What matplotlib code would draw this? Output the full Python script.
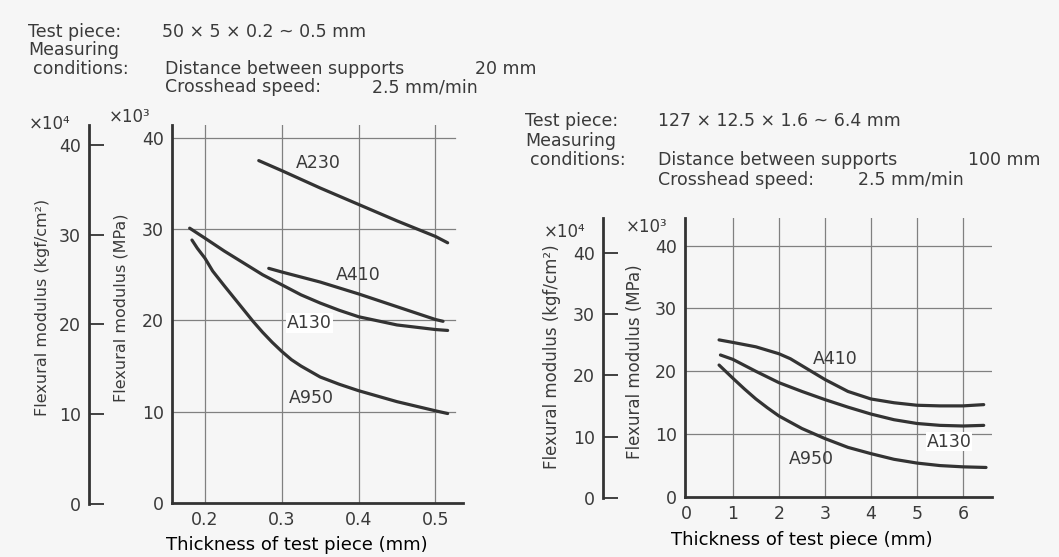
import matplotlib
matplotlib.use("Agg")
import matplotlib.pyplot as plt

W, H = 1059, 557
INK = '#3a3a3a'
LINE = '#333333'
GRID = '#808080'

plt.rcParams['font.family'] = 'DejaVu Sans'
plt.rcParams['text.color'] = INK

# left chart: thin test pieces (thickness in mm, modulus in 10^3 MPa)
left_a230_x = [0.270, 0.30, 0.35, 0.40, 0.45, 0.50, 0.516]
left_a230_y = [37.5, 36.4, 34.5, 32.7, 30.9, 29.2, 28.5]
left_a410_x = [0.283, 0.30, 0.35, 0.40, 0.45, 0.50, 0.510]
left_a410_y = [25.7, 25.3, 24.2, 22.9, 21.5, 20.1, 19.9]
left_a130_x = [0.180, 0.20, 0.225, 0.25, 0.275, 0.30, 0.325, 0.35, 0.375, 0.40, 0.45, 0.50, 0.516]
left_a130_y = [30.1, 29.0, 27.6, 26.3, 25.0, 23.9, 22.8, 21.9, 21.1, 20.4, 19.5, 19.0, 18.9]
left_a950_x = [0.183, 0.19, 0.20, 0.21, 0.225, 0.2375, 0.25, 0.2625, 0.275, 0.2875, 0.30,
               0.3125, 0.325, 0.3375, 0.35, 0.375, 0.40, 0.425, 0.45, 0.475, 0.50, 0.516]
left_a950_y = [28.8, 27.9, 26.8, 25.4, 23.8, 22.5, 21.2, 19.9, 18.7, 17.6, 16.6,
               15.7, 15.0, 14.4, 13.8, 13.0, 12.3, 11.7, 11.1, 10.6, 10.1, 9.8]

# right chart: thick test pieces
right_a410_x = [0.70, 1.0, 1.5, 2.0, 2.25, 2.5, 2.75, 3.0, 3.5, 4.0, 4.5, 5.0, 5.5, 6.0, 6.45]
right_a410_y = [25.0, 24.6, 23.9, 22.8, 22.0, 20.9, 19.8, 18.7, 16.8, 15.6, 15.0, 14.6, 14.5, 14.5, 14.7]
right_a130_x = [0.73, 1.0, 1.5, 2.0, 2.5, 3.0, 3.5, 4.0, 4.5, 5.0, 5.5, 6.0, 6.45]
right_a130_y = [22.6, 21.9, 20.0, 18.2, 16.8, 15.5, 14.3, 13.2, 12.3, 11.7, 11.4, 11.3, 11.4]
right_a950_x = [0.70, 1.0, 1.25, 1.5, 1.75, 2.0, 2.5, 3.0, 3.5, 4.0, 4.5, 5.0, 5.5, 6.0, 6.5]
right_a950_y = [21.0, 18.9, 17.2, 15.6, 14.2, 12.9, 10.9, 9.3, 7.9, 6.9, 6.0, 5.4, 5.0, 4.8, 4.7]

left_xticks = [0.2, 0.3, 0.4, 0.5]
right_xticks = [0, 1, 2, 3, 4, 5, 6]
yticks = [0, 10, 20, 30, 40]

left_labels = [('A230', 0.348, 37.2), ('A410', 0.40, 25.0), ('A130', 0.336, 19.7), ('A950', 0.339, 11.5)]
right_labels = [('A410', 3.22, 22.0), ('A130', 5.70, 8.8), ('A950', 2.71, 6.0)]

left_header = [('Test piece:', 28, 32), ('50 × 5 × 0.2 ~ 0.5 mm', 162, 32), ('Measuring', 28, 50),
               ('conditions:', 33, 69), ('Distance between supports', 165, 69), ('20 mm', 475, 69),
               ('Crosshead speed:', 165, 87), ('2.5 mm/min', 372, 87)]
right_header = [('Test piece:', 525, 121), ('127 × 12.5 × 1.6 ~ 6.4 mm', 658, 121), ('Measuring', 525, 141),
                ('conditions:', 530, 160), ('Distance between supports', 658, 160), ('100 mm', 968, 160),
                ('Crosshead speed:', 658, 180), ('2.5 mm/min', 858, 180)]


def box(fig, l, t, r, b):
    # pixel box (from top-left) -> axes
    return fig.add_axes([l / W, 1 - b / H, (r - l) / W, (b - t) / H])


def main_axes(fig, l, t, r, b, xlim, ylim, xticks, xlabels, grid_right):
    ax = box(fig, l, t, r, b)
    ax.set_facecolor('none')
    ax.set_xlim(*xlim)
    ax.set_ylim(*ylim)
    for s in ['top', 'right']:
        ax.spines[s].set_visible(False)
    for s in ['left', 'bottom']:
        ax.spines[s].set_linewidth(2.0)
        ax.spines[s].set_color(LINE)
    ax.set_xticks(xticks)
    ax.set_xticklabels(xlabels)
    ax.set_yticks(yticks)
    ax.tick_params(length=0, labelsize=12.5, colors=INK, pad=6)
    for v in xticks:
        if v > xlim[0] + 0.05 * (xlim[1] - xlim[0]):
            ax.plot([v, v], [0, ylim[1]], color=GRID, lw=0.9, zorder=1)
    for v in yticks[1:]:
        ax.plot([xlim[0], grid_right], [v, v], color=GRID, lw=0.9, zorder=1)
    return ax


def side_axis(fig, x, t, b, ytop):
    ax = box(fig, x, t, x + 20, b)
    ax.set_facecolor('none')
    ax.set_ylim(0, ytop)
    for s in ['top', 'right', 'bottom']:
        ax.spines[s].set_visible(False)
    ax.spines['left'].set_linewidth(2.0)
    ax.spines['left'].set_color(LINE)
    ax.set_xticks([])
    ax.set_yticks(yticks)
    ax.tick_params(axis='y', direction='in', length=11, width=1.3, color=LINE,
                   labelsize=12.5, labelcolor=INK, pad=6)
    return ax


fig = plt.figure(figsize=(W / 100, H / 100), dpi=100, facecolor='#f6f6f6')

# ---- left chart ----
ax1 = main_axes(fig, 172, 125, 463, 503, (0.157, 0.536), (0, 41.4),
                left_xticks, ['0.2', '0.3', '0.4', '0.5'], 0.525)
for xs, ys in [(left_a230_x, left_a230_y), (left_a410_x, left_a410_y),
               (left_a130_x, left_a130_y), (left_a950_x, left_a950_y)]:
    ax1.plot(xs, ys, color=LINE, lw=2.3, solid_capstyle='round', solid_joinstyle='round', zorder=3)
for name, x, y in left_labels:
    bg = dict(facecolor='white', edgecolor='none', pad=0.5) if name == 'A130' else None
    ax1.text(x, y, name, ha='center', va='center', fontsize=12.5, bbox=bg, zorder=2)
ax1.set_xlabel('Thickness of test piece (mm)', fontsize=13, va='center')
ax1.xaxis.set_label_coords((297 - 172) / 291, (503 - 545) / 378)
side1 = side_axis(fig, 89, 125, 504, 42.2)

fig.text(43 / W, 1 - 307 / H, 'Flexural modulus (kgf/cm²)', rotation=90, ha='center', va='center', fontsize=11.5)
fig.text(121 / W, 1 - 308 / H, 'Flexural modulus (MPa)', rotation=90, ha='center', va='center', fontsize=11.5)
fig.text(50 / W, 1 - 124 / H, '×10⁴', ha='center', va='center', fontsize=12)
fig.text(130 / W, 1 - 117 / H, '×10³', ha='center', va='center', fontsize=12)

# ---- right chart ----
ax2 = main_axes(fig, 685, 218, 992, 497, (-0.04, 6.63), (0, 44.4),
                right_xticks, [str(v) for v in right_xticks], 6.6)
for xs, ys in [(right_a410_x, right_a410_y), (right_a130_x, right_a130_y),
               (right_a950_x, right_a950_y)]:
    ax2.plot(xs, ys, color=LINE, lw=2.3, solid_capstyle='round', solid_joinstyle='round', zorder=3)
for name, x, y in right_labels:
    bg = dict(facecolor='white', edgecolor='none', pad=0.5) if name == 'A130' else None
    ax2.text(x, y, name, ha='center', va='center', fontsize=12.5, bbox=bg, zorder=2)
ax2.set_xlabel('Thickness of test piece (mm)', fontsize=13, va='center')
ax2.xaxis.set_label_coords((802 - 685) / 307, (497 - 540) / 279)
side2 = side_axis(fig, 603, 218, 498, 45.7)

fig.text(552 / W, 1 - 357 / H, 'Flexural modulus (kgf/cm²)', rotation=90, ha='center', va='center', fontsize=12)
fig.text(635 / W, 1 - 362 / H, 'Flexural modulus (MPa)', rotation=90, ha='center', va='center', fontsize=12)
fig.text(565 / W, 1 - 232 / H, '×10⁴', ha='center', va='center', fontsize=12)
fig.text(647 / W, 1 - 227 / H, '×10³', ha='center', va='center', fontsize=12)

# ---- header notes ----
for txt, x, y in left_header + right_header:
    fig.text(x / W, 1 - y / H, txt, ha='left', va='center', fontsize=12.5)

fig.savefig('out.png', dpi=100, facecolor=fig.get_facecolor())
